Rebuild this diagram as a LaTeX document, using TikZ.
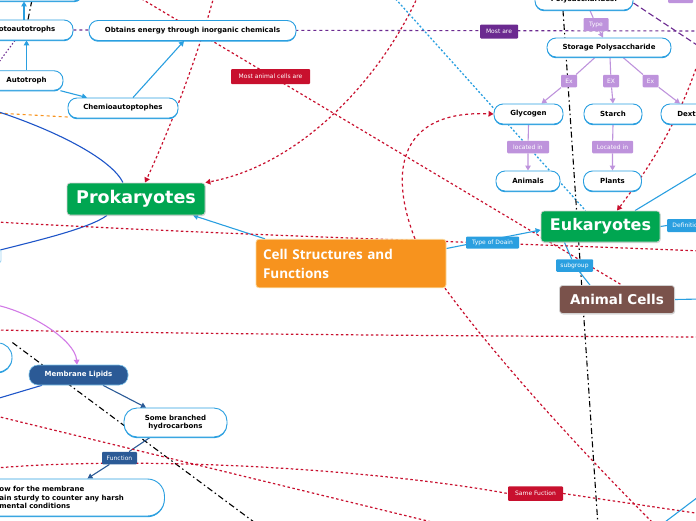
\documentclass[tikz,border=0pt]{standalone}
\usepackage{fontspec}
\setmainfont{DejaVu Sans}
\newfontfamily\osans{Open Sans}
\usetikzlibrary{arrows.meta,shadows,calc}
\definecolor{cblue}{HTML}{2A9FE0}
\definecolor{dblue}{HTML}{1E55C8}
\definecolor{clip}{HTML}{2B5A96}
\definecolor{cred}{HTML}{C8102E}
\definecolor{dpurple}{HTML}{6B2A90}
\definecolor{clav}{HTML}{BE93DC}
\definecolor{corchid}{HTML}{D27BE6}
\definecolor{cgreen}{HTML}{00A651}
\definecolor{cbrown}{HTML}{7A524B}
\definecolor{corange}{HTML}{F7931E}
\definecolor{corangeb}{HTML}{FBD79A}
\pgfdeclarelayer{bg}
\pgfsetlayers{bg,main}
\begin{document}
\begin{tikzpicture}[x=1pt,y=-1pt,
  wnode/.style={draw=cblue, line width=0.9pt, fill=white, rounded corners=9pt,
    font=\bfseries\fontsize{7}{8.5}\selectfont, align=center, inner sep=0pt,
    general shadow={fill=cblue, shadow yshift=-1.2pt}},
  bigbox/.style={rounded corners=3pt, text=white, inner sep=0pt, draw=black!18, line width=0.8pt,
    drop shadow={shadow xshift=0.6pt, shadow yshift=-1pt, opacity=0.3}},
  lbl/.style={fill=cblue, text=white, font=\fontsize{6}{7}\selectfont, inner sep=0pt, rounded corners=1pt},
  arr/.style={-{Triangle[length=5pt,width=5.5pt]}},
  bline/.style={draw=cblue, line width=1.1pt},
  rdot/.style={draw=cred, line width=1.2pt, dash pattern=on 2.5pt off 2.5pt},
  kdd/.style={draw=black, line width=1.1pt, dash pattern=on 6pt off 3pt on 1.5pt off 3pt},
  lavl/.style={draw=clav, line width=1.1pt},
]
\useasboundingbox (0,0) rectangle (696,520);
\clip (0,0) rectangle (696,520);

% ---------- nodes ----------
\node[wnode, minimum width=103pt, minimum height=31pt] (topbox) at (31.5,-14.5) {};
\node[wnode, minimum width=102pt, minimum height=20pt] (photo) at (22,30) {Photoautotrophs};
\node[wnode, minimum width=207pt, minimum height=20pt] (obtains) at (192.5,30.5) {Obtains energy through inorganic chemicals};
\node[wnode, minimum width=73pt, minimum height=19.5pt] (autotroph) at (26.5,80.5) {Autotroph};
\node[wnode, minimum width=110pt, minimum height=20pt] (chemo) at (123,108) {Chemioautoptophes};
\node[wnode, minimum width=98pt, minimum height=20pt] (poly) at (584,0) {Polysaccharides:};
\node[wnode, minimum width=124pt, minimum height=19pt] (storage) at (609,47.5) {Storage Polysaccharide};
\node[wnode, minimum width=69pt, minimum height=20pt] (glycogen) at (528.5,114) {Glycogen};
\node[wnode, minimum width=58pt, minimum height=20pt] (starch) at (613,114) {Starch};
\node[wnode, minimum width=62pt, minimum height=20pt] (dextrin) at (692,114) {Dextrin};
\node[wnode, minimum width=64pt, minimum height=20pt] (animals) at (528,181) {Animals};
\node[wnode, minimum width=58pt, minimum height=20pt] (plants) at (612.5,181) {Plants};
\node[wnode, minimum width=52pt, minimum height=29pt, rounded corners=14pt] (leftnode) at (-14,357.5) {};
\node[draw=cblue!45, line width=0.9pt, fill=white, rounded corners=2pt, minimum width=62pt, minimum height=13pt, inner sep=0pt] (leftstub) at (-30,256) {};
\node[wnode, minimum width=103pt, minimum height=29pt, rounded corners=13pt] (branched) at (175.5,422.5) {Some branched\\hydrocarbons};
\node[wnode, anchor=west, text width=204pt, align=left, minimum height=37pt, rounded corners=17pt] (allow) at (-40,497.5)
  {\hspace*{39pt}ow for the membrane\\\hspace*{39pt}ain sturdy to counter any harsh\\\hspace*{39pt}mental conditions};
\node[fill=clip, draw=cblue!60, line width=0.6pt, rounded corners=9pt, text=white, inner sep=0pt,
  font=\bfseries\fontsize{7}{8.5}\selectfont, minimum width=99pt, minimum height=20pt] (lipids) at (78.5,375) {Membrane Lipids};

\node[bigbox, fill=cgreen, minimum width=138pt, minimum height=32pt, font=\bfseries\fontsize{17.5}{20}\selectfont] (prok) at (136,199) {Prokaryotes};
\node[bigbox, fill=cgreen, minimum width=119pt, minimum height=31pt, font=\bfseries\fontsize{16}{18}\selectfont] (euk) at (600.5,226.5) {Eukaryotes};
\node[bigbox, fill=cbrown, minimum width=115pt, minimum height=28pt, font=\bfseries\fontsize{13.5}{16}\selectfont] (animalcells) at (617,299.5) {Animal Cells};
\node[fill=corange, draw=corangeb, line width=0.8pt, rounded corners=3pt, text=white, text width=176pt, inner xsep=7pt, inner ysep=0pt,
  align=left, minimum height=48.5pt, font=\osans\bfseries\fontsize{13.5}{19}\selectfont] (cell) at (351,263.5) {Cell Structures and\\Functions};

% labels
\node[lbl, fill=cred, minimum width=79pt, minimum height=15pt] (mostanimal) at (270.5,76.5) {Most animal cells are};
\node[lbl, fill=dpurple, minimum width=38pt, minimum height=14pt] (mostare) at (499,31.5) {Most are};
\node[lbl, fill=clav, minimum width=25pt, minimum height=15pt] (toppurple) at (680.5,-4.5) {};
\node[lbl, fill=clav, minimum width=25pt, minimum height=13pt] (typel) at (596,24.5) {Type};
\node[lbl, fill=clav, minimum width=16pt, minimum height=12.5pt] (ex1) at (569,81) {Ex};
\node[lbl, fill=clav, minimum width=16pt, minimum height=12.5pt] (ex2) at (611,81) {EX};
\node[lbl, fill=clav, minimum width=16pt, minimum height=12.5pt] (ex3) at (650.5,81) {Ex};
\node[lbl, fill=clav, minimum width=42pt, minimum height=12.5pt] (loc1) at (528,147) {located in};
\node[lbl, fill=clav, minimum width=41pt, minimum height=12.5pt] (loc2) at (612.5,147) {Located in};
\node[lbl, minimum width=40pt, minimum height=13pt] (defn) at (687,225.5) {Definition};
\node[lbl, minimum width=53pt, minimum height=12pt] (typedoain) at (492.5,242.5) {Type of Doain};
\node[lbl, minimum width=37pt, minimum height=12.5pt] (subgroup) at (574.5,265.5) {subgroup};
\node[lbl, fill=clip, minimum width=35pt, minimum height=12.5pt] (funcl) at (119.5,458) {Function};
\node[lbl, fill=cred, minimum width=55pt, minimum height=14.5pt] (samef) at (535.5,493.5) {Same Fuction};

% free ends
\coordinate (pA) at (-4,66);
\coordinate (pB) at (700,31);
\coordinate (pC) at (700,47);
\coordinate (kA) at (36,-20);
\coordinate (oA) at (-4,113);
\coordinate (bA) at (-4,111);
\coordinate (rA) at (120,-14);
\coordinate (rB) at (214,-4);
\coordinate (rC) at (418,-4);
\coordinate (cA) at (393,-4);
\coordinate (rD) at (702,50);
\coordinate (kB) at (598,526);
\coordinate (bB) at (702,170);
\coordinate (rE) at (-4,222);
\coordinate (rF) at (702,251);
\coordinate (bC) at (-4,251);
\coordinate (rG) at (-4,330);
\coordinate (rH) at (702,337);
\coordinate (vA) at (-4,305);
\coordinate (kC) at (258,525);
\coordinate (bD) at (-4,399);
\coordinate (rI) at (-4,416);
\coordinate (rJ) at (440,524);
\coordinate (rK) at (-4,468);
\coordinate (rL) at (702,514);
\coordinate (rM) at (656,526);
\coordinate (bE) at (665,522);
\coordinate (bF) at (702,494);
\coordinate (bG) at (702,299);

% ---------- connectors ----------
\begin{pgfonlayer}{bg}
\draw[bline, arr] ([xshift=2pt]photo.north) -- ([xshift=-7.5pt]topbox.south);
\draw[bline, arr] (autotroph.north) -- ([xshift=4.5pt]photo.south);
\draw[kdd] ([xshift=6pt]photo.north) -- (kA);
\draw[draw=dpurple, line width=1.1pt, dash pattern=on 3pt off 3pt] (photo.east) -- (pB);
\draw[draw=dpurple, line width=1.1pt, dash pattern=on 1.5pt off 2pt] ([xshift=-7pt]photo.south) -- (pA);
\draw[bline, arr] ([xshift=-3pt]autotroph.south east) -- ([xshift=-36pt]chemo.north);
\draw[bline, arr] ([xshift=10pt]chemo.north) -- ([xshift=-8.5pt]obtains.south);
\draw[draw=corange, line width=1.1pt, dash pattern=on 3pt off 3pt] ([yshift=-9pt]chemo.west) -- (oA);
\draw[draw=dblue, line width=1.1pt] (bA) .. controls (60,132) and (112,160) .. ([xshift=-13pt]prok.north);
\draw[draw=dblue, line width=1.1pt] ([xshift=-29pt]prok.south) .. controls (90,228) and (40,240) .. (bC);
\draw[rdot] (rA) -- ([xshift=5pt]animalcells.north);
\draw[rdot, arr] (rB) .. controls (197,60) and (165,140) .. ([xshift=9pt]prok.north);
\draw[rdot, arr] (rC) .. controls (380,80) and (300,165) .. (prok.north east);
\draw[draw=cblue, line width=1.3pt, dash pattern=on 2pt off 2pt] (cA) -- ([xshift=-15pt]euk.north);
\draw[draw=cred, line width=1.2pt, dash pattern=on 3pt off 3pt, arr] ([xshift=64pt]cell.north) .. controls (388,170) and (400,110) .. (glycogen.west);
\draw[draw=dpurple, line width=1.1pt, dash pattern=on 6pt off 3pt] ([yshift=-3pt]poly.east) -- (pC);
\draw[lavl, arr] ([xshift=6pt]poly.south) -- (typel) -- ([xshift=-6pt]storage.north);
\draw[lavl, arr] ([xshift=-14pt]storage.south) -- (ex1) -- ([xshift=13pt]glycogen.north);
\draw[lavl, arr] ([xshift=1pt]storage.south) -- (ex2) -- (starch.north);
\draw[lavl, arr] ([xshift=14pt]storage.south) -- (ex3) -- ([xshift=-12pt]dextrin.north);
\draw[lavl, arr] (glycogen.south) -- (loc1) -- (animals.north);
\draw[lavl, arr] (starch.south) -- (loc2) -- (plants.north);
\draw[rdot, arr] (rD) .. controls (682,115) and (655,160) .. ([xshift=16.5pt]euk.north);
\draw[kdd] ([xshift=-21pt]poly.south) -- (kB);
\draw[bline] ([xshift=34.5pt]euk.north) -- (bB);
\draw[bline] (euk.east) -- (defn.west);
\draw[bline, arr] ([yshift=15pt]cell.east) -- ([yshift=-3.5pt]euk.west);
\draw[bline] ([xshift=-36pt]euk.south) -- (subgroup) -- ([xshift=-27pt]animalcells.north);
\draw[bline, arr] ([xshift=-86pt]cell.north) -- ([xshift=57pt]prok.south);
\draw[rdot] (rE) .. controls (250,236) and (450,241) .. (rF);
\draw[rdot] (rG) .. controls (200,334) and (450,336) .. (rH);
\draw[draw=corchid, line width=1.1pt, arr] (vA) .. controls (30,312) and (75,340) .. ([xshift=-1.5pt]lipids.north);
\draw[kdd] (leftnode.north east) -- (kC);
\draw[draw=dblue, line width=1.1pt] ([xshift=-36.5pt]lipids.south) -- (bD);
\draw[draw=clip, line width=1.1pt, arr] ([xshift=24.5pt]lipids.south) -- ([xshift=-29.5pt]branched.north);
\draw[draw=clip, line width=1.1pt, arr] ([xshift=-25.5pt]branched.south) -- (funcl) -- ([xshift=25pt]allow.north);
\draw[rdot] (rI) -- (rJ);
\draw[rdot] (rK) .. controls (150,455) and (380,470) .. (samef.west);
\draw[rdot] (samef.east) -- (rL);
\draw[rdot] ([xshift=94pt]cell.south) .. controls (490,350) and (570,440) .. (rM);
\draw[bline] (bE) -- (bF);
\draw[bline] (animalcells.east) -- (bG);
\end{pgfonlayer}
\end{tikzpicture}
\end{document}
